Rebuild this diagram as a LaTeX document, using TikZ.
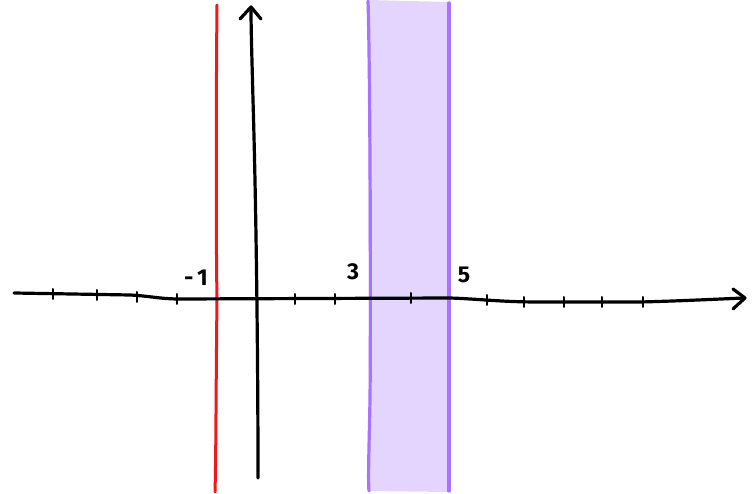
\documentclass[tikz,border=0pt]{standalone}
\usepackage{fontspec}
\setmainfont{Fira Sans}
\definecolor{bandfill}{HTML}{E3D5FE}
\definecolor{bandline}{HTML}{A974FB}
\definecolor{redline}{HTML}{F01818}
\begin{document}
\begin{tikzpicture}[x=1pt,y=-1pt,line cap=round,line join=round,
  axis/.style={line width=3.2pt,black},
  tick/.style={line width=2pt,black},
  lbl/.style={font=\fontsize{23}{23}\selectfont\bfseries,inner sep=0pt}]
\useasboundingbox (0,0) rectangle (753,494);
% purple band
\fill[bandfill] (368,0) -- (449,2) -- (449,492) -- (369,491) -- cycle;
\draw[bandline,line width=3.2pt] (368,1) .. controls (370,60) and (371,300) .. (370,400) .. controls (369,450) and (368,480) .. (369,491);
\draw[bandline,line width=3.2pt] (449,3) .. controls (449,100) and (449,350) .. (449,491);
% red line
\draw[redline,line width=3pt] (217,5) .. controls (216,100) and (216,250) .. (217,298) .. controls (216,380) and (216,460) .. (215,492);
% x axis
\draw[axis] (14,293) -- (130,295) .. controls (150,296) and (160,299) .. (180,299) -- (450,298) .. controls (480,299) and (500,302) .. (540,302) -- (640,302) .. controls (680,301) and (720,299) .. (744,298);
\draw[axis] (733,289) -- (745,298) -- (733,309);
% y axis
\draw[axis] (258,478) .. controls (258,350) and (256,200) .. (253,100) .. controls (252,60) and (251,30) .. (251,8);
\draw[axis] (240,19) -- (251,7) -- (261,19);
% ticks
\foreach \x/\y in {53/294,97/295,137/297,177/299,295/299,335/299,411/298,487/300,524/302,564/302,602/302,643/302}
  \draw[tick] (\x,\y-5) -- (\x,\y+5);
% labels
\node[lbl] (m1) at (196,278) {-\,1};
\node[lbl] (t3) at (353,272) {3};
\node[lbl] (t5) at (464,275) {5};
\end{tikzpicture}
\end{document}
